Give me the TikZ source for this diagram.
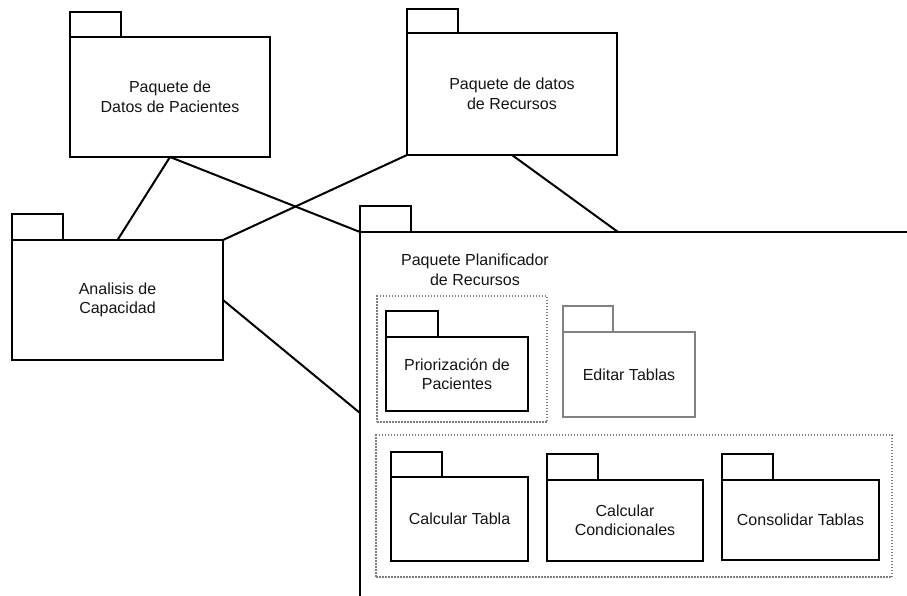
\documentclass[tikz,border=0pt]{standalone}
\usepackage{fontspec}
\setmainfont{Liberation Sans}
\usetikzlibrary{calc}
\definecolor{pkggray}{RGB}{130,130,130}
\definecolor{dotgray}{RGB}{125,125,125}
\definecolor{txt}{RGB}{20,20,20}
\tikzset{
  pkg/.style={draw, line width=2pt, outer sep=0pt, inner sep=0pt, align=center,
    anchor=north west, text=txt, font=\fontsize{16}{19.5}\selectfont},
  pkgtab/.style={draw, line width=2pt},
  graypkg/.style={pkg, draw=pkggray},
  graytab/.style={pkgtab, draw=pkggray},
  groupbox/.style={draw=dotgray, line width=1.5pt, dash pattern=on 1.5pt off 1.5pt,
    outer sep=0pt, inner sep=0pt, anchor=north west},
  link/.style={line width=2pt},
  caption/.style={align=center, text=txt, font=\fontsize{16}{19.5}\selectfont}
}
\begin{document}
\begin{tikzpicture}[x=1pt, y=-1pt]
\useasboundingbox (0,0) rectangle (907,595);

% top-level packages
\node[pkg, minimum width=200, minimum height=120] (pac) at (70,37) {Paquete de\\Datos de Pacientes};
\draw[pkgtab] (pac.north west) rectangle ++(51,-25);

\node[pkg, minimum width=210, minimum height=122] (rec) at (407,33) {Paquete de datos\\de Recursos};
\draw[pkgtab] (rec.north west) rectangle ++(51,-24);

\node[pkg, minimum width=211, minimum height=120] (ana) at (12,240) {Analisis de\\Capacidad};
\draw[pkgtab] (ana.north west) rectangle ++(51,-26);

% resource planner package (runs past the page edges)
\node[pkg, minimum width=600, minimum height=420] (plan) at (360,232) {};
\draw[pkgtab] (plan.north west) rectangle ++(51,-26);
\node[caption] (plantitle) at (475,270) {Paquete Planificador\\de Recursos};

\coordinate (plantop) at ($(plan.north west)+(258,0)$);
\coordinate (planleft) at ($(plan.north west)+(0,181)$);

% dotted groups
\node[groupbox, minimum width=170, minimum height=126] (grpA) at (377,296) {};
\node[groupbox, minimum width=516, minimum height=142] (grpB) at (376,435) {};

% nested packages
\node[pkg, minimum width=142, minimum height=74] (prio) at (386,337) {Priorización de\\Pacientes};
\draw[pkgtab] (prio.north west) rectangle ++(52,-26);

\node[graypkg, minimum width=132, minimum height=85] (edit) at (563,332) {Editar Tablas};
\draw[graytab] (edit.north west) rectangle ++(50,-26);

\node[pkg, minimum width=137, minimum height=84] (ctab) at (391,477) {Calcular Tabla};
\draw[pkgtab] (ctab.north west) rectangle ++(51,-25);

\node[pkg, minimum width=156, minimum height=81] (ccond) at (547,480) {Calcular\\Condicionales};
\draw[pkgtab] (ccond.north west) rectangle ++(51,-26);

\node[pkg, minimum width=157, minimum height=80] (cons) at (722,480) {Consolidar Tablas};
\draw[pkgtab] (cons.north west) rectangle ++(51,-26);

% dependencies
\draw[link] (pac.south) -- (ana.north);
\draw[link] (pac.south) -- (plan.north west);
\draw[link] (rec.south west) -- (ana.north east);
\draw[link] (rec.south) -- (plantop);
\draw[link] (ana.east) -- (planleft);
\end{tikzpicture}
\end{document}
